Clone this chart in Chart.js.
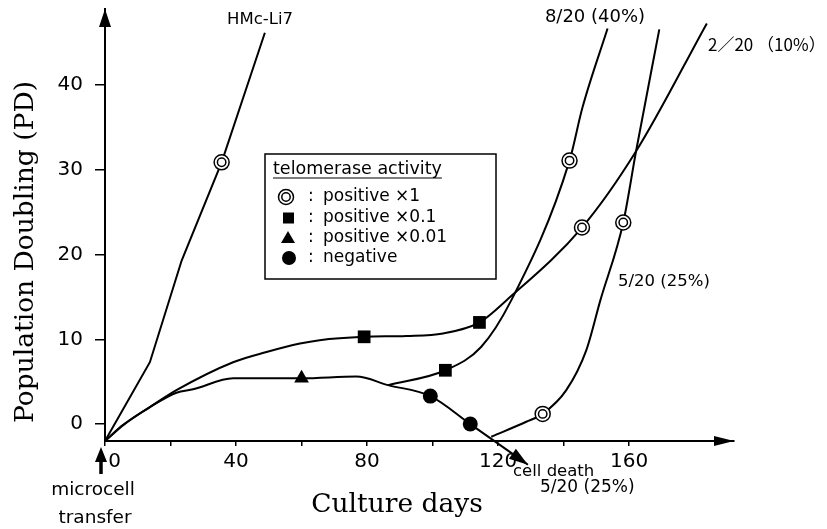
<!DOCTYPE html>
<html><head><meta charset="utf-8">
<script src="https://cdn.jsdelivr.net/npm/chart.js@4"></script>
<style>html,body{margin:0;padding:0;background:#fff;} canvas{display:block}</style>
</head><body>
<canvas id="c" width="827" height="529"></canvas>
<script>
// ---- data (culture days, population doubling) ----
const hmcDays = [0, 13.7, 23.4, 35.6, 48.8];
const hmcPD   = [-2, 7.3, 19.3, 30.9, 46.2];

const tenPctDays = [0, 5.6, 13.7, 21.8, 39.1, 49.3, 59.5, 65.5, 79.1, 92, 103.2, 114.3, 122.5, 145.6, 162.1, 183.7];
const tenPctPD   = [-2, -0.1, 2.0, 4.0, 7.3, 8.5, 9.5, 9.9, 10.3, 10.4, 10.7, 12.0, 14.6, 23.2, 32.2, 47.3];

const deathDays = [0, 5.6, 13.7, 21.8, 26.9, 39.1, 60, 76.7, 86.4, 99.3, 111.5, 129.1];
const deathPD   = [-2, -0.1, 2.0, 3.7, 4.1, 5.4, 5.4, 5.6, 4.6, 3.3, 0, -4.8];

const fortyPctDays = [86.4, 103.9, 114.8, 124, 141.8, 145.7, 153.4];
const fortyPctPD   = [4.6, 6.35, 9.1, 14.6, 31.1, 37.3, 46.7];

const twentyFivePctDays = [117.9, 128.6, 133.6, 140.8, 146.9, 151.2, 158.2, 162.1, 169.2];
const twentyFivePctPD   = [-1.5, 0.27, 1.2, 4.0, 8.7, 14.6, 23.8, 32.2, 46.6];

// telomerase activity markers
const posX1Days   = [35.6, 141.8, 145.6, 158.2, 133.6];
const posX1PD     = [30.9, 31.1, 23.2, 23.8, 1.2];
const posX01Days  = [79.1, 114.3, 103.9];
const posX01PD    = [10.3, 12.0, 6.35];
const posX001Days = [60];
const posX001PD   = [5.4];
const negDays     = [99.3, 111.5];
const negPD       = [3.3, 0];

// ticks
const xTickValues = [0, 20, 40, 60, 80, 100, 120, 140, 160];
const xLabelValues = [0, 40, 80, 120, 160];
const yTickValues = [0, 10, 20, 30, 40];

const legendTitle = 'telomerase activity';
const legendLabels = ['positive \u00d71', 'positive \u00d70.1', 'positive \u00d70.01', 'negative'];

// ---- build ----
const zip = (xs, ys) => xs.map((x, i) => ({x: x, y: ys[i]}));
const lineDs = (xs, ys, mode) => ({
  data: zip(xs, ys), borderColor: '#000', borderWidth: 2, pointRadius: 0, fill: false,
  cubicInterpolationMode: mode, tension: 0, clip: false, capBezierPoints: false, order: 5
});
const markDs = (xs, ys, style, r, bg, bw, order) => ({
  data: zip(xs, ys), showLine: false, pointStyle: style, pointRadius: r,
  pointBackgroundColor: bg, pointBorderColor: '#000', pointBorderWidth: bw, clip: false, order: order
});

const SANS = '"DejaVu Sans", sans-serif';
const SERIF = '"DejaVu Serif", serif';

const annot = {
  id: 'annot',
  afterDraw(chart) {
    const ctx = chart.ctx, a = chart.chartArea, xs = chart.scales.x, ys = chart.scales.y;
    ctx.save();
    ctx.fillStyle = '#000'; ctx.strokeStyle = '#000';
    // axis arrowheads
    ctx.beginPath(); ctx.moveTo(a.left, a.top); ctx.lineTo(a.left - 6, a.top + 18); ctx.lineTo(a.left + 6, a.top + 18); ctx.closePath(); ctx.fill();
    ctx.beginPath(); ctx.moveTo(a.right, a.bottom); ctx.lineTo(a.right - 20, a.bottom - 5); ctx.lineTo(a.right - 20, a.bottom + 5); ctx.closePath(); ctx.fill();
    // cell death arrowhead
    const n = deathDays.length;
    const x1 = xs.getPixelForValue(deathDays[n-2]), y1 = ys.getPixelForValue(deathPD[n-2]);
    const x2 = xs.getPixelForValue(deathDays[n-1]), y2 = ys.getPixelForValue(deathPD[n-1]);
    const ang = Math.atan2(y2 - y1, x2 - x1), L = 19, W = 6;
    ctx.beginPath(); ctx.moveTo(x2, y2);
    ctx.lineTo(x2 - L*Math.cos(ang) + W*Math.sin(ang), y2 - L*Math.sin(ang) - W*Math.cos(ang));
    ctx.lineTo(x2 - L*Math.cos(ang) - W*Math.sin(ang), y2 - L*Math.sin(ang) + W*Math.cos(ang));
    ctx.closePath(); ctx.fill();
    // microcell transfer arrow
    const mx = a.left - 4;
    ctx.beginPath(); ctx.moveTo(mx, a.bottom + 6); ctx.lineTo(mx - 6, a.bottom + 21); ctx.lineTo(mx + 6, a.bottom + 21); ctx.closePath(); ctx.fill();
    ctx.lineWidth = 3.5; ctx.beginPath(); ctx.moveTo(mx, a.bottom + 18); ctx.lineTo(mx, a.bottom + 33); ctx.stroke();

    // texts
    const t = (s, x, y, font, align) => { ctx.font = font; ctx.textAlign = align || 'left'; ctx.textBaseline = 'middle'; ctx.fillText(s, x, y); };
    t('HMc-Li7', 260, 20, '16.5px ' + SANS, 'center');
    t('8/20 (40%)', 595, 17, '18px ' + SANS, 'center');
    t('2\uff0f20 \uff0810%\uff09', 708, 45, '17px "Noto Sans CJK JP", sans-serif', 'left');
    t('5/20 (25%)', 618, 282, '16.5px ' + SANS, 'left');
    t('cell death', 513, 472, '16.5px ' + SANS, 'left');
    t('5/20 (25%)', 540, 488, '17px ' + SANS, 'left');
    t('microcell', 93, 490, '18.5px ' + SANS, 'center');
    t('transfer', 95, 518, '18.5px ' + SANS, 'center');
    // axis titles
    ctx.font = '26.5px ' + SERIF; ctx.textAlign = 'center'; ctx.textBaseline = 'alphabetic';
    ctx.fillText('Culture days', 397, 512);
    ctx.save(); ctx.translate(33, 252); ctx.rotate(-Math.PI/2); ctx.fillText('Population Doubling (PD)', 0, 0); ctx.restore();

    // legend box
    ctx.lineWidth = 1.5;
    ctx.strokeRect(265, 154, 231, 125);
    ctx.font = '17.5px ' + SANS; ctx.textAlign = 'left'; ctx.textBaseline = 'middle';
    ctx.fillText(legendTitle, 273, 169);
    const tw = ctx.measureText(legendTitle).width;
    ctx.lineWidth = 1.2; ctx.beginPath(); ctx.moveTo(273, 178); ctx.lineTo(273 + tw, 178); ctx.stroke();
    const rows = [197, 218, 238, 258];
    // symbols
    ctx.lineWidth = 1.5;
    ctx.beginPath(); ctx.arc(286, rows[0], 7.5, 0, Math.PI*2); ctx.stroke();
    ctx.beginPath(); ctx.arc(286, rows[0], 4.2, 0, Math.PI*2); ctx.stroke();
    ctx.fillRect(283, rows[1] - 5.5, 11, 11);
    ctx.beginPath(); ctx.moveTo(288, rows[2] - 7); ctx.lineTo(295, rows[2] + 5); ctx.lineTo(281, rows[2] + 5); ctx.closePath(); ctx.fill();
    ctx.beginPath(); ctx.arc(289, rows[3], 7, 0, Math.PI*2); ctx.fill();
    ctx.font = '17px ' + SANS;
    rows.forEach((ry, i) => {
      ctx.fillText(':', 308, ry);
      ctx.fillText(legendLabels[i], 323, ry);
    });
    ctx.restore();
  }
};

new Chart(document.getElementById('c'), {
  type: 'line',
  data: {
    datasets: [
      lineDs(hmcDays, hmcPD, 'default'),
      lineDs(tenPctDays, tenPctPD, 'monotone'),
      lineDs(deathDays, deathPD, 'monotone'),
      lineDs(fortyPctDays, fortyPctPD, 'monotone'),
      lineDs(twentyFivePctDays, twentyFivePctPD, 'monotone'),
      markDs(posX1Days, posX1PD, 'circle', 7.5, '#fff', 1.5, 2),
      markDs(posX1Days, posX1PD, 'circle', 4.2, '#fff', 1.5, 1),
      markDs(posX01Days, posX01PD, 'rect', 9, '#000', 0, 2),
      markDs(posX001Days, posX001PD, 'triangle', 8.5, '#000', 0, 2),
      markDs(negDays, negPD, 'circle', 7.5, '#000', 0, 2)
    ]
  },
  options: {
    responsive: false, animation: false, devicePixelRatio: 1,
    layout: { padding: { top: 7.5, right: 93, left: 0, bottom: 0 } },
    plugins: { legend: { display: false }, tooltip: { enabled: false } },
    events: [],
    scales: {
      x: {
        type: 'linear', min: 0, max: 192,
        afterBuildTicks: s => { s.ticks = xTickValues.map(v => ({value: v})); },
        afterFit: s => { s.height = 88; s.paddingLeft = 0; s.paddingRight = 0; },
        ticks: {
          autoSkip: false, maxRotation: 0, padding: 4, color: '#000',
          font: { family: 'DejaVu Sans', size: 20 },
          callback: v => xLabelValues.includes(v) ? (v === 0 ? '\u2007 0' : String(v)) : ''
        },
        grid: { drawOnChartArea: false, drawTicks: true, tickLength: 5, color: '#000', lineWidth: 1.5 },
        border: { display: true, color: '#000', width: 2 }
      },
      y: {
        type: 'linear', min: -2, max: 49,
        afterBuildTicks: s => { s.ticks = yTickValues.map(v => ({value: v})); },
        afterFit: s => { s.width = 105; s.paddingTop = 0; s.paddingBottom = 0; },
        ticks: { padding: 12, color: '#000', font: { family: 'DejaVu Sans', size: 20 } },
        grid: { drawOnChartArea: false, drawTicks: true, tickLength: 10, color: '#000', lineWidth: 1.5 },
        border: { display: true, color: '#000', width: 2 }
      }
    }
  },
  plugins: [annot]
});
</script>
</body></html>
